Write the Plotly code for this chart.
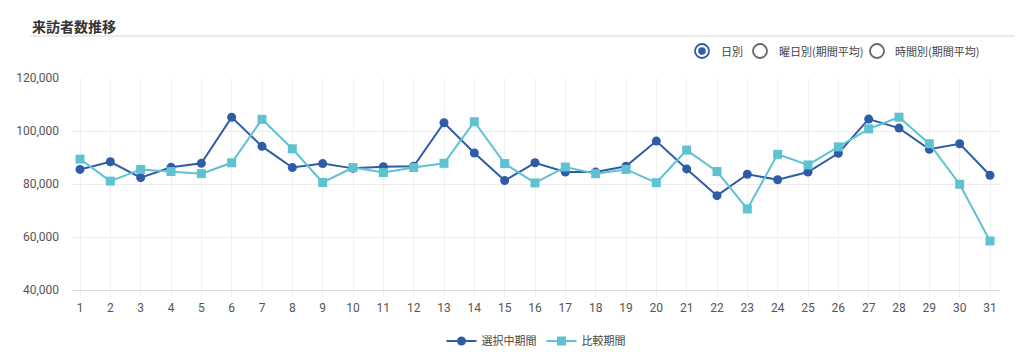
import plotly.graph_objects as go

days = list(range(1, 32))
selected = [85500, 88400, 82400, 86300, 87800, 105200, 94200, 86200, 87700, 85900,
            86500, 86700, 103100, 91700, 81300, 88000, 84500, 84500, 86700, 96200,
            85700, 75600, 83700, 81600, 84500, 91600, 104500, 101100, 93100, 95200, 83300]
compare = [89400, 81100, 85500, 84700, 83900, 88000, 104400, 93300, 80600, 86200,
           84300, 86200, 87800, 103500, 87700, 80400, 86400, 83900, 85500, 80500,
           92800, 84700, 70600, 91200, 87200, 94000, 100800, 105200, 95200, 79900, 58500]
series_names = ["選択中期間", "比較期間"]
title_text = "来訪者数推移"
radio_labels = ["日別", "曜日別(期間平均)", "時間別(期間平均)"]
y_ticks = [40000, 60000, 80000, 100000, 120000]

W, H = 1024, 363
L, R, T, B = 72, 24, 78, 73
PW, PH = W - L - R, H - T - B

def px(x):
    return (x - L) / PW

def py(y):
    return (H - B - y) / PH

DARK = "#2e5ca6"
LIGHT = "#5ec2d0"
FONT = "Roboto, Noto Sans CJK JP, sans-serif"

fig = go.Figure()
fig.add_trace(go.Scatter(x=days, y=selected, name=series_names[0], mode="lines+markers",
                         line=dict(color=DARK, width=2),
                         marker=dict(symbol="circle", size=9, color=DARK)))
fig.add_trace(go.Scatter(x=days, y=compare, name=series_names[1], mode="lines+markers",
                         line=dict(color=LIGHT, width=2),
                         marker=dict(symbol="square", size=9, color=LIGHT)))

shapes = []
annotations = []

# title and underline
annotations.append(dict(text="<b>" + title_text + "</b>", xref="paper", yref="paper",
                        x=px(30), y=py(26), xanchor="left", yanchor="middle", showarrow=False,
                        font=dict(family="Noto Sans CJK JP", size=14, color="#333333")))
shapes.append(dict(type="line", xref="paper", yref="paper", x0=px(30), x1=px(1015),
                   y0=py(36), y1=py(36), line=dict(color="#e3e3e3", width=1.5)))

# radio buttons
radio_cx = [702, 760, 877]
radio_tx = [719, 777, 893]
for i, (cx, tx, lab) in enumerate(zip(radio_cx, radio_tx, radio_labels)):
    col = DARK if i == 0 else "#666666"
    shapes.append(dict(type="circle", xref="paper", yref="paper", xsizemode="pixel",
                       ysizemode="pixel", xanchor=px(cx), yanchor=py(51),
                       x0=-7, x1=7, y0=-7, y1=7, line=dict(color=col, width=1.8)))
    if i == 0:
        shapes.append(dict(type="circle", xref="paper", yref="paper", xsizemode="pixel",
                           ysizemode="pixel", xanchor=px(cx), yanchor=py(51),
                           x0=-3.8, x1=3.8, y0=-3.8, y1=3.8, fillcolor=DARK,
                           line=dict(color=DARK, width=0)))
    annotations.append(dict(text=lab, xref="paper", yref="paper", x=px(tx), y=py(51),
                            xanchor="left", yanchor="middle", showarrow=False,
                            font=dict(family="Noto Sans CJK JP", size=11, color="#444444")))

fig.update_layout(
    width=W, height=H,
    margin=dict(l=L, r=R, t=T, b=B, autoexpand=False),
    paper_bgcolor="white", plot_bgcolor="white",
    font=dict(family=FONT, size=12, color="#555555"),
    showlegend=True,
    legend=dict(orientation="h", x=0.5, xanchor="center", y=py(341), yanchor="middle",
                font=dict(family="Noto Sans CJK JP", size=11, color="#444444"),
                itemwidth=30),
    shapes=shapes, annotations=annotations,
    xaxis=dict(range=[1 - 8 / 30.33, 31 + 10 / 30.33], tickmode="array", tickvals=days,
               ticktext=[str(d) for d in days], showgrid=True, gridcolor="#eef1f6",
               gridwidth=1, zeroline=False, showline=True, linecolor="#dddddd",
               ticks="outside", ticklen=6, tickcolor="#eef1f6", ticklabelstandoff=1,
               tickfont=dict(family="Roboto", size=12, color="#555555")),
    yaxis=dict(range=[40000, 120000], tickvals=y_ticks, tickformat=",", showgrid=True,
               gridcolor="#ececec", gridwidth=1, zeroline=False, showline=False,
               ticklabelstandoff=12,
               tickfont=dict(family="Roboto", size=12, color="#555555")),
)

fig.write_html("out.html", config={"displayModeBar": False},
               post_script="document.body.style.margin='0';document.body.style.overflow='hidden';")
